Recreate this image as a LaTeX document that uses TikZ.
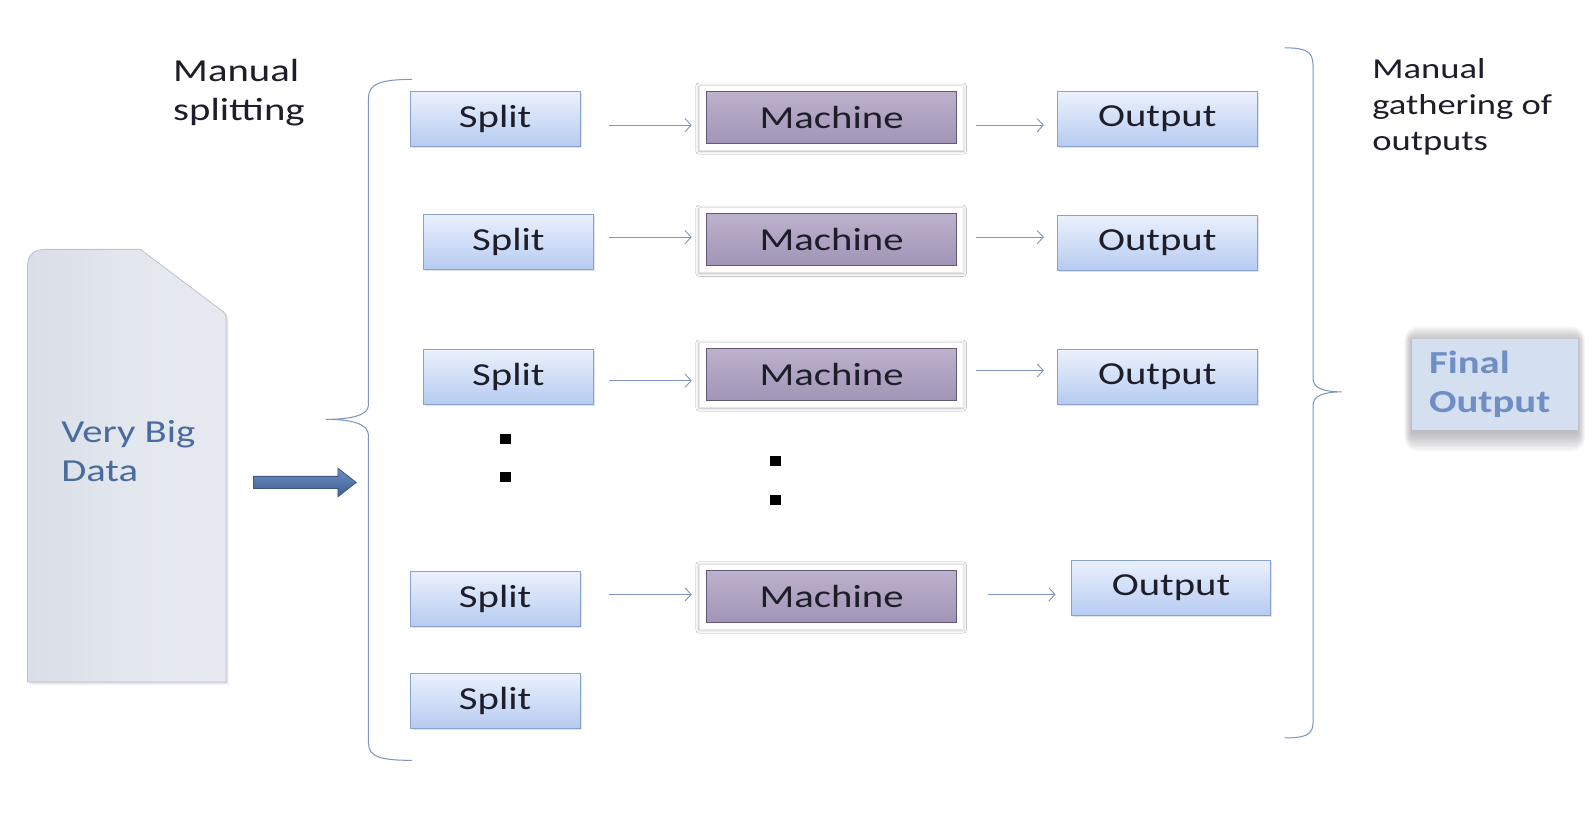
\documentclass[tikz,border=0pt]{standalone}
\usepackage{fontspec}
\setmainfont[FakeStretch=1.27]{Carlito}
\usetikzlibrary{arrows.meta,calc,shadows,shadows.blur,backgrounds}
\definecolor{boxtop}{HTML}{EBF1FD}
\definecolor{boxbot}{HTML}{B6CBF1}
\definecolor{boxedge}{HTML}{8AA3CE}
\definecolor{machtop}{HTML}{BDB1CD}
\definecolor{machbot}{HTML}{A194B6}
\definecolor{machedge}{HTML}{64587A}
\definecolor{conncol}{HTML}{7F96C2}
\definecolor{bracecol}{HTML}{7C94BF}
\definecolor{datatext}{HTML}{4A6B9D}
\definecolor{finaltext}{HTML}{6E8EC4}
\definecolor{finalfill}{HTML}{D4DFF0}
\definecolor{bigarrowtop}{HTML}{6E8DC0}
\definecolor{bigarrowbot}{HTML}{3F5F94}
\definecolor{bigarrowedge}{HTML}{3B5888}
\definecolor{textcol}{HTML}{1E1E2A}
\definecolor{dataleft}{HTML}{D9DEE7}
\definecolor{datamid}{HTML}{E3E7EE}
\definecolor{dataright}{HTML}{E6EAF0}
\definecolor{dataedge}{HTML}{BCC4D0}
\definecolor{glowcol}{HTML}{6A6A78}
\definecolor{frameedge}{HTML}{E4E4EA}
\tikzset{
  bluebox/.style={rectangle, top color=boxtop, bottom color=boxbot, draw=boxedge, line width=0.9pt,
    drop shadow={shadow xshift=1.5pt, shadow yshift=-1.5pt, opacity=0.22},
    text=textcol, font=\fontsize{31.5}{38}\selectfont, inner sep=0pt},
  splitbox/.style={bluebox, minimum width=167pt, minimum height=54pt},
  outbox/.style={bluebox, minimum width=196pt, minimum height=54pt},
  machbox/.style={rectangle, top color=machtop, bottom color=machbot, draw=machedge, line width=0.8pt,
    minimum width=246pt, minimum height=51pt, inner sep=0pt,
    text=textcol, font=\fontsize{31.5}{38}\selectfont},
  glowframe/.style={fill=white, draw=frameedge, line width=0.6pt, blur shadow={shadow xshift=0pt, shadow yshift=-1pt, shadow blur radius=3pt, shadow opacity=30}},
  conn/.style={draw=conncol, line width=0.9pt, -{Straight Barb[length=6pt,width=13pt,line width=0.9pt]}},
  brace/.style={draw=bracecol, line width=1pt},
  dotsq/.style={rectangle, fill=black, minimum width=11pt, minimum height=10pt, inner sep=0pt},
  plaintext/.style={text=textcol, align=left, inner sep=0pt},
  datashape/.pic={\path[pic actions] (27,670) -- (27,262) .. controls (27,250) and (33,245) .. (45,245) -- (138,245) -- (219,306) .. controls (222,308) and (222,310) .. (222,314) -- (222,670) -- cycle;},
}
\begin{document}
\begin{tikzpicture}[x=1pt,y=-1pt]
\useasboundingbox (0,0) rectangle (1568,815);
\begin{scope}[on background layer]
\fill[white] (0,0) rectangle (1568,815);
\end{scope}

% Very big data shape
\foreach \d in {1,2,3,4}{
  \pic[fill=glowcol, opacity=0.06, xshift=\d*0.8pt, yshift=-\d*0.8pt] at (0,0) {datashape};
}
\pic[left color=dataleft, right color=dataright, middle color=datamid] at (0,0) {datashape};
\pic[draw=dataedge, line width=0.8pt] at (0,0) {datashape};
\node[anchor=west, align=left, text=datatext, font=\fontsize{31.5}{38}\selectfont, inner sep=0pt] (vbd) at (60,443) {Very Big\\Data};

% thick arrow
\path[top color=bigarrowtop, bottom color=bigarrowbot, draw=bigarrowedge, line width=0.8pt]
  (249,468) -- (332,468) -- (332,460) -- (350,474) -- (332,488) -- (332,480) -- (249,480) -- cycle;

% labels
\node[plaintext, anchor=west, font=\fontsize{31.5}{38}\selectfont] (ms) at (170,91) {Manual\\splitting};
\node[plaintext, anchor=west, font=\fontsize{28.3}{35}\selectfont] (mg) at (1348,105) {Manual\\gathering of\\outputs};

% braces
\draw[brace] (405,78) .. controls (375,78) and (362,82) .. (362,96) -- (362,398)
  .. controls (362,408) and (345,412) .. (320,412)
  .. controls (345,412) and (362,416) .. (362,428) -- (362,730)
  .. controls (362,744) and (375,747) .. (405,747);
\draw[brace] (1262,47) .. controls (1282,47) and (1290,50) .. (1290,64) -- (1290,372)
  .. controls (1290,381) and (1300,385) .. (1318,385)
  .. controls (1300,385) and (1290,389) .. (1290,398) -- (1290,710)
  .. controls (1290,722) and (1282,725) .. (1262,725);

% split boxes
\node[splitbox] (s1) at (486.5,117) {Split};
\node[splitbox] (s2) at (499.5,237.5) {Split};
\node[splitbox] (s3) at (499.5,370.5) {Split};
\node[splitbox] (s4) at (486.5,588.5) {Split};
\node[splitbox] (s5) at (486.5,688.5) {Split};

% machines
\node[machbox] (m1) at (817,115.5) {Machine};
\node[machbox] (m2) at (817,235.5) {Machine};
\node[machbox] (m3) at (817,368) {Machine};
\node[machbox] (m4) at (817,586) {Machine};
\begin{scope}[on background layer]
\foreach \m in {m1,m2,m3,m4}{
  \path[glowframe] ($(\m.north west)+(-7,-6)$) rectangle ($(\m.south east)+(6,6)$);
}
\end{scope}

% outputs
\node[outbox] (o1) at (1137,117) {Output};
\node[outbox] (o2) at (1137,238.5) {Output};
\node[outbox] (o3) at (1137,370.5) {Output};
\node[outbox] (o4) at (1150.5,577.5) {Output};

% final output
\node[rectangle, fill=finalfill, minimum width=163pt, minimum height=89pt, text width=129pt, align=left,
  inner xsep=17pt, inner ysep=0pt, text=finaltext, font=\bfseries\fontsize{31.5}{38}\selectfont] (fo) at (1468.5,377.5) {Final\\Output};
\begin{scope}[on background layer]
\foreach \i in {1,...,14}{
  \fill[glowcol, opacity=0.035, rounded corners=\i pt]
    ($(fo.north west)+(-0.5*\i,-1.1*\i+3)$) rectangle ($(fo.south east)+(0.5*\i,1.4*\i+2)$);
}
\end{scope}

% dots
\node[dotsq] (d1) at (497,431) {};
\node[dotsq] (d2) at (497,469) {};
\node[dotsq] (d3) at (762,453) {};
\node[dotsq] (d4) at (762,491) {};

% connectors
\draw[conn] ($(s1.east)+(28,6)$) -- ($(m1.west)+(-14,7.5)$);
\draw[conn] ($(m1.east)+(18,7.5)$) -- ($(o1.west)+(-13,6)$);
\draw[conn] ($(s2.east)+(15,-4.5)$) -- ($(m2.west)+(-14,-2.5)$);
\draw[conn] ($(m2.east)+(18,-2.5)$) -- ($(o2.west)+(-13,-5.5)$);
\draw[conn] ($(s3.east)+(15,3.5)$) -- ($(m3.west)+(-14,6)$);
\draw[conn] ($(m3.east)+(18,-4)$) -- ($(o3.west)+(-13,-6.5)$);
\draw[conn] ($(s4.east)+(28,-4.5)$) -- ($(m4.west)+(-14,-2)$);
\draw[conn] ($(m4.east)+(30,-2)$) -- ($(o4.west)+(-15,6.5)$);
\end{tikzpicture}
\end{document}
